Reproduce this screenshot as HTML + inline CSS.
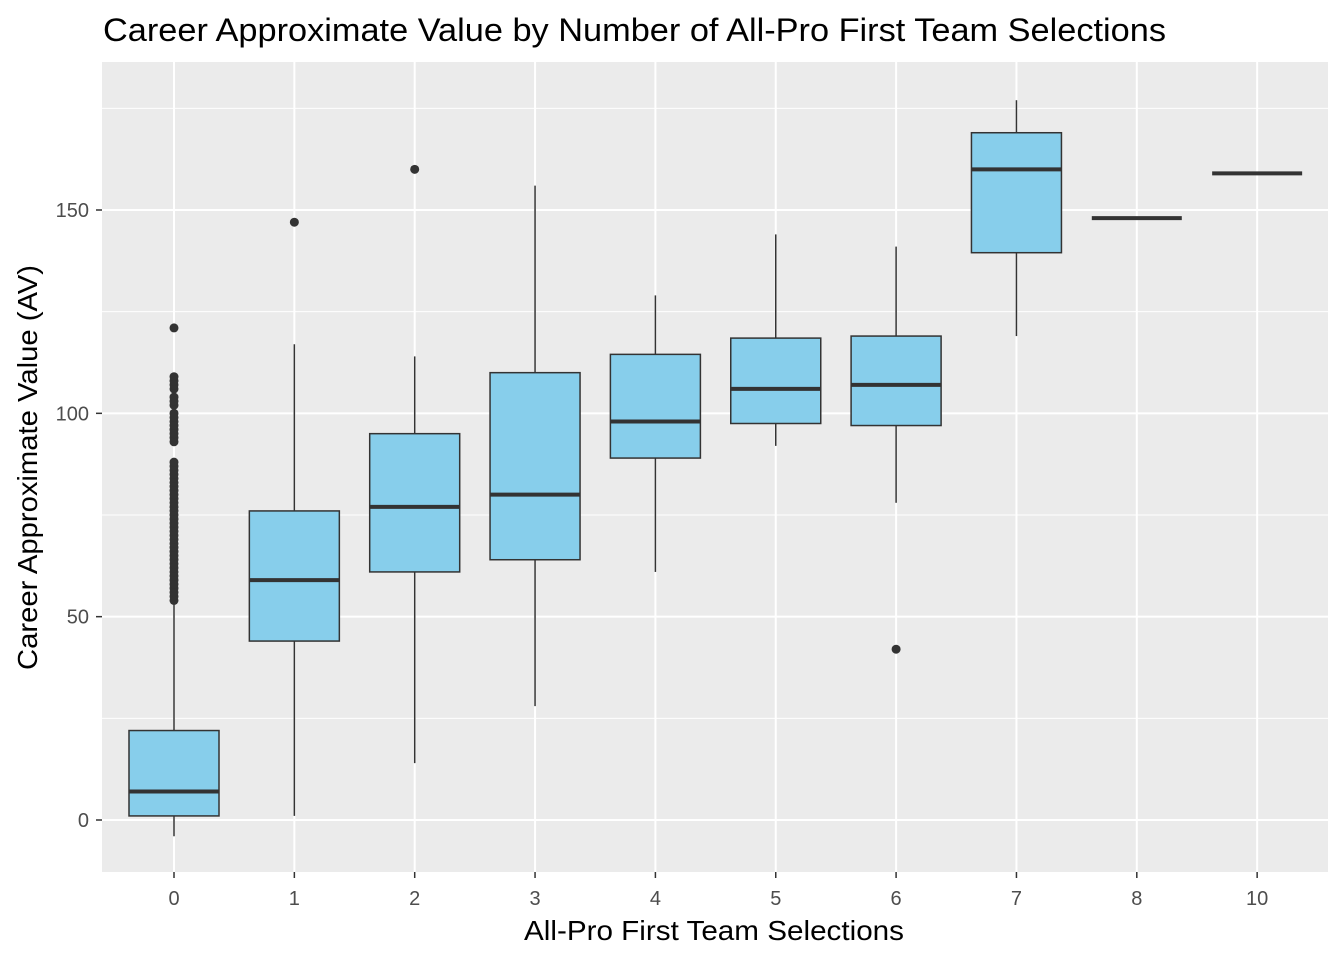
<!DOCTYPE html>
<html><head><meta charset="utf-8"><style>
body{margin:0;background:#fff;font-family:"Liberation Sans",Arial,sans-serif}
</style></head><body>
<svg id="chart" width="1344" height="960" xmlns="http://www.w3.org/2000/svg">
<rect width="1344" height="960" fill="#fff"/>
<text x="103" y="41" font-size="32" textLength="1063" lengthAdjust="spacingAndGlyphs" fill="#000">Career Approximate Value by Number of All-Pro First Team Selections</text>
<rect x="102" y="62" width="1226" height="810" fill="#ebebeb"/>
<g id="grid"></g><g id="boxes"></g><g id="axes"></g>
<text x="524" y="940" font-size="28" textLength="380" lengthAdjust="spacingAndGlyphs" fill="#000">All-Pro First Team Selections</text>
<text transform="translate(37,670) rotate(-90)" font-size="28" textLength="405" lengthAdjust="spacingAndGlyphs" fill="#000">Career Approximate Value (AV)</text>
</svg>
<script>
const categories=["0","1","2","3","4","5","6","7","8","10"];
const lowWhisker=[-4,1,14,28,61,92,78,119,148,159];
const q1=[1,44,61,64,89,97.5,97,139.5,148,159];
const median=[7,59,77,80,98,106,107,160,148,159];
const q3=[22,76,95,110,114.5,118.5,119,169,148,159];
const highWhisker=[54,117,114,156,129,144,141,177,148,159];
const outlierCat=["0","0","0","0","0","0","0","0","0","0","0","0","0","0","0","0","0","0","0","0","0","0","0","0","0","0","0","0","0","0","0","0","0","0","0","0","0","0","0","0","0","0","0","0","0","0","0","0","0","0","0","1","2","6"];
const outlierVal=[54,55,56,57,58,59,60,61,62,63,64,65,66,67,68,69,70,71,72,73,74,75,76,77,78,79,80,81,82,83,84,85,86,87,88,93,94,95,96,98,100,102,103,104,106,107,108,109,121,97,99,147,160,42];
const yTicks=[0,50,100,150];
const yMinor=[25,75,125,175];

const NS="http://www.w3.org/2000/svg";
const y=v=>820-v*(610/150);
const x=i=>174+i*120.35;
const hw=45;
function mk(p,tag,a){const e=document.createElementNS(NS,tag);for(const k in a)e.setAttribute(k,a[k]);p.appendChild(e);return e;}
const grid=document.getElementById('grid'),boxes=document.getElementById('boxes'),axes=document.getElementById('axes');
yMinor.forEach(v=>{const l=mk(grid,'line',{x1:102,x2:1328,y1:y(v),y2:y(v),stroke:'#fff','stroke-width':1});

});
yTicks.forEach(v=>{const l=mk(grid,'line',{x1:102,x2:1328,y1:y(v),y2:y(v),stroke:'#fff','stroke-width':2});


const t=mk(axes,'text',{x:89,y:y(v)+7,'font-size':20,fill:'#4d4d4d','text-anchor':'end'});t.textContent=v;


mk(axes,'line',{x1:96,x2:102,y1:y(v),y2:y(v),stroke:'#333','stroke-width':1.5});});
categories.forEach((c,i)=>{const l=mk(grid,'line',{x1:x(i),x2:x(i),y1:62,y2:872,stroke:'#fff','stroke-width':2});


mk(axes,'line',{x1:x(i),x2:x(i),y1:872,y2:878,stroke:'#333','stroke-width':1.5});
const t=mk(axes,'text',{x:x(i),y:905,'font-size':20,fill:'#4d4d4d','text-anchor':'middle'});t.textContent=c;

});
categories.forEach((c,i)=>{const g=mk(boxes,'g',{});


const cx=x(i);
mk(g,'line',{x1:cx,x2:cx,y1:y(highWhisker[i]),y2:y(q3[i]),stroke:'#333','stroke-width':1.5});
mk(g,'line',{x1:cx,x2:cx,y1:y(q1[i]),y2:y(lowWhisker[i]),stroke:'#333','stroke-width':1.5});
mk(g,'rect',{x:cx-hw,y:y(q3[i]),width:2*hw,height:Math.max(0,y(q1[i])-y(q3[i])),fill:'#87ceeb',stroke:'#333','stroke-width':1.5});
mk(g,'line',{x1:cx-hw,x2:cx+hw,y1:y(median[i]),y2:y(median[i]),stroke:'#333','stroke-width':4});});
outlierVal.forEach((v,k)=>{const i=categories.indexOf(outlierCat[k]);
const p=mk(boxes,'circle',{cx:x(i),cy:y(v),r:4.5,fill:'#333'});

});
</script>
</body></html>
